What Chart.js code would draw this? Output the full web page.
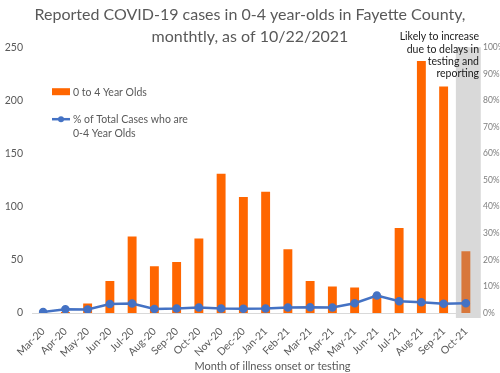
<!DOCTYPE html>
<html>
<head>
<meta charset="utf-8">
<script src="https://cdn.jsdelivr.net/npm/chart.js@4/dist/chart.umd.min.js"></script>
<style>
  html, body { margin: 0; padding: 0; background: #fff; }
  #wrap { width: 500px; height: 373px; }
</style>
</head>
<body>
<div id="wrap"><canvas id="chart1"></canvas></div>
<script>
var months = ['Mar-20', 'Apr-20', 'May-20', 'Jun-20', 'Jul-20', 'Aug-20', 'Sep-20', 'Oct-20', 'Nov-20', 'Dec-20',
  'Jan-21', 'Feb-21', 'Mar-21', 'Apr-21', 'May-21', 'Jun-21', 'Jul-21', 'Aug-21', 'Sep-21', 'Oct-21'];
var cases = [0, 1, 9, 30, 72, 44, 48, 70, 131, 109, 114, 60, 30, 25, 24, 17, 80, 237, 213, 58];
var pctOfTotal = [0.4, 1.4, 1.3, 3.4, 3.6, 1.5, 1.7, 2.1, 1.7, 1.6, 1.7, 2.1, 2.2, 2.1, 3.7, 6.6, 4.4, 4.0, 3.5, 3.7];
var caseTicks = [0, 50, 100, 150, 200, 250];
var pctTicks = [0, 10, 20, 30, 40, 50, 60, 70, 80, 90, 100];
var noteLines = ['Likely to increase', 'due to delays in', 'testing and', 'reporting'];

Chart.defaults.font.family = 'Lato';

var extras = {
  id: 'extras',
  beforeDatasetsDraw: function(chart) {
    var x = chart.scales.x, yp = chart.scales.yPct, ctx = chart.ctx;
    var w = x.getPixelForValue(1) - x.getPixelForValue(0);
    var cx = x.getPixelForValue(months.length - 1);
    var top = yp.getPixelForValue(100), bottom = yp.getPixelForValue(0) + 5;
    ctx.save();
    ctx.fillStyle = '#d9d9d9';
    ctx.fillRect(cx - 0.45 * w, top, 1.12 * w, bottom - top);
    ctx.restore();
  },
  afterDraw: function(chart) {
    var ctx = chart.ctx, a = chart.chartArea;
    ctx.save();
    // legend
    var lx = a.left + 20;
    ctx.fillStyle = '#ff6600';
    ctx.fillRect(lx, a.top + 41, 18, 7);
    ctx.strokeStyle = '#4472c4';
    ctx.lineWidth = 2.5;
    ctx.beginPath();
    ctx.moveTo(lx, a.top + 72);
    ctx.lineTo(lx + 18, a.top + 72);
    ctx.stroke();
    ctx.fillStyle = '#4472c4';
    ctx.beginPath();
    ctx.arc(lx + 9, a.top + 72, 3, 0, Math.PI * 2);
    ctx.fill();
    ctx.font = '10.5px Lato';
    ctx.fillStyle = '#595959';
    ctx.textBaseline = 'middle';
    ctx.textAlign = 'left';
    ctx.fillText('0 to 4 Year Olds', lx + 21, a.top + 45);
    ctx.fillText('% of Total Cases who are', lx + 21, a.top + 72);
    ctx.fillText('0-4 Year Olds', lx + 21, a.top + 86);
    // note over the last month
    ctx.font = '10.5px Lato';
    ctx.fillStyle = '#1a1a1a';
    ctx.textAlign = 'right';
    noteLines.forEach(function(t, i) {
      ctx.fillText(t, a.right + 2, 37 + i * 12.2);
    });
    // x axis title
    ctx.font = '11px Lato';
    ctx.fillStyle = '#595959';
    ctx.textAlign = 'center';
    ctx.fillText('Month of illness onset or testing', (a.left + a.right) / 2 + 18, 366);
    ctx.restore();
  }
};

var casesChart = new Chart(document.getElementById('chart1'), {
  type: 'bar',
  data: {
    labels: months,
    datasets: [{
      type: 'line',
      label: '% of Total Cases who are 0-4 Year Olds',
      data: pctOfTotal,
      yAxisID: 'yPct',
      borderColor: '#4472c4',
      backgroundColor: '#4472c4',
      borderWidth: 2.5,
      pointRadius: 3,
      pointHoverRadius: 3,
      tension: 0,
      order: 0
    }, {
      label: '0 to 4 Year Olds',
      data: cases,
      yAxisID: 'y',
      backgroundColor: function(c) {
        return c.dataIndex === months.length - 1 ? '#d8773b' : '#ff6600';
      },
      barPercentage: 0.4,
      categoryPercentage: 1,
      order: 1
    }]
  },
  options: {
    responsive: true,
    maintainAspectRatio: false,
    animation: false,
    layout: { padding: { left: 0, right: 0, top: 0, bottom: 0 } },
    plugins: {
      legend: { display: false },
      tooltip: { enabled: false },
      title: {
        display: true,
        text: ['Reported COVID-19 cases in 0-4 year-olds in Fayette County,', 'monthtly, as of 10/22/2021'],
        color: '#595959',
        font: { size: 16, weight: 'normal', lineHeight: 1.35 },
        padding: { top: 4, bottom: 0 }
      }
    },
    scales: {
      x: {
        grid: { display: false, drawTicks: false },
        border: { display: true, color: '#d9d9d9', width: 1 },
        ticks: { color: '#595959', font: { size: 10.5 }, minRotation: 45, maxRotation: 45, padding: 12, autoSkip: false },
        afterFit: function(s) { s.height = 60; }
      },
      y: {
        position: 'left',
        min: caseTicks[0],
        max: caseTicks[caseTicks.length - 1],
        grid: { display: false, drawTicks: false },
        border: { display: false },
        afterBuildTicks: function(s) { s.ticks = caseTicks.map(function(v) { return { value: v }; }); },
        ticks: { color: '#595959', font: { size: 10.5 }, padding: 9 },
        afterFit: function(s) { s.width = 32; }
      },
      yPct: {
        position: 'right',
        min: pctTicks[0],
        max: pctTicks[pctTicks.length - 1],
        grid: { display: false, drawTicks: false },
        border: { display: false },
        afterBuildTicks: function(s) { s.ticks = pctTicks.map(function(v) { return { value: v }; }); },
        ticks: { color: '#7f7f7f', font: { size: 8.5 }, padding: 6, callback: function(v) { return v + '%'; } },
        afterFit: function(s) { s.width = 23; }
      }
    }
  },
  plugins: [extras]
});
</script>
</body>
</html>
